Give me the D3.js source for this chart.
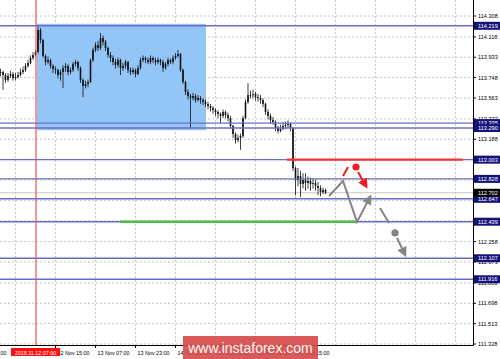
<!DOCTYPE html>
<html>
<head>
<meta charset="utf-8">
<script src="https://cdn.jsdelivr.net/npm/d3@7"></script>
<style>
	body { margin: 0; background: #fff; }
	svg { display: block; font-family: "Liberation Sans", Arial, sans-serif; }
</style>
</head>
<body>
<script>
// USDJPY H1, one bar every hour
var opens = [
	113.790,113.799,113.772,113.727,113.763,113.781,113.745,113.754,113.772,113.799,
	113.817,113.854,113.881,113.927,113.954,113.981,114.181,114.090,113.945,113.890,
	113.908,113.854,113.827,113.817,113.772,113.799,113.836,113.854,113.799,113.817,
	113.872,113.890,113.836,113.727,113.672,113.690,113.708,113.908,113.999,114.045,
	114.017,114.108,114.072,114.017,113.954,113.927,113.890,113.863,113.908,113.836,
	113.854,113.890,113.817,113.799,113.817,113.781,113.836,113.908,113.927,113.908,
	113.890,113.927,113.908,113.890,113.908,113.890,113.836,113.872,113.908,113.890,
	113.927,113.945,113.963,113.817,113.708,113.618,113.581,113.563,113.581,113.545,
	113.563,113.545,113.527,113.509,113.490,113.472,113.454,113.436,113.418,113.400,
	113.436,113.409,113.381,113.309,113.236,113.181,113.200,113.218,113.381,113.527,
	113.590,113.590,113.599,113.572,113.563,113.545,113.509,113.436,113.400,113.363,
	113.345,113.290,113.263,113.281,113.309,113.318,113.327,113.290,112.927,112.818,
	112.854,112.782,112.818,112.791,112.809,112.782,112.791,112.764,112.745,112.709,
	112.727];
var highs = [
	113.830,113.810,113.790,113.790,113.810,113.800,113.790,113.800,113.830,113.850,
	113.880,113.910,113.950,113.980,114.000,114.219,114.200,114.100,113.960,113.940,
	113.920,113.870,113.850,113.830,113.820,113.860,113.880,113.870,113.840,113.890,
	113.910,113.900,113.850,113.740,113.720,113.730,113.920,114.020,114.070,114.080,
	114.154,114.130,114.090,114.030,113.980,113.950,113.920,113.930,113.920,113.880,
	113.910,113.900,113.840,113.840,113.830,113.860,113.930,113.950,113.940,113.930,
	113.950,113.940,113.930,113.930,113.920,113.910,113.890,113.930,113.920,113.950,
	113.970,113.999,113.970,113.830,113.720,113.640,113.600,113.610,113.600,113.590,
	113.580,113.560,113.550,113.530,113.510,113.490,113.470,113.450,113.430,113.460,
	113.450,113.430,113.400,113.320,113.250,113.230,113.240,113.400,113.550,113.699,
	113.630,113.640,113.620,113.600,113.590,113.560,113.520,113.460,113.420,113.390,
	113.360,113.310,113.320,113.340,113.350,113.360,113.340,113.300,112.940,112.927,
	112.900,112.880,112.880,112.850,112.840,112.830,112.820,112.800,112.770,112.750,
	112.740];
var lows = [
	113.760,113.636,113.700,113.710,113.745,113.720,113.725,113.740,113.760,113.780,
	113.800,113.840,113.870,113.910,113.940,113.970,114.060,113.930,113.860,113.870,
	113.830,113.790,113.780,113.740,113.720,113.654,113.800,113.770,113.780,113.800,
	113.850,113.810,113.700,113.572,113.650,113.660,113.700,113.890,113.980,113.990,
	114.000,114.040,113.990,113.930,113.890,113.860,113.830,113.840,113.772,113.810,
	113.830,113.790,113.770,113.780,113.750,113.770,113.820,113.890,113.880,113.870,
	113.870,113.880,113.860,113.870,113.860,113.800,113.820,113.850,113.870,113.870,
	113.910,113.930,113.800,113.690,113.590,113.550,113.290,113.540,113.520,113.530,
	113.510,113.500,113.480,113.460,113.440,113.420,113.400,113.380,113.336,113.380,
	113.380,113.350,113.280,113.200,113.150,113.160,113.091,113.200,113.370,113.510,
	113.560,113.560,113.540,113.530,113.510,113.480,113.410,113.370,113.330,113.320,
	113.260,113.240,113.250,113.270,113.280,113.290,113.260,112.900,112.680,112.760,
	112.664,112.740,112.720,112.740,112.720,112.740,112.720,112.680,112.670,112.690,
	112.690];
var closes = [
	113.799,113.772,113.727,113.763,113.781,113.745,113.754,113.772,113.799,113.817,
	113.854,113.881,113.927,113.954,113.981,114.181,114.090,113.945,113.890,113.908,
	113.854,113.827,113.817,113.772,113.799,113.836,113.854,113.799,113.817,113.872,
	113.890,113.836,113.727,113.672,113.690,113.708,113.908,113.999,114.045,114.017,
	114.108,114.072,114.017,113.954,113.927,113.890,113.863,113.908,113.836,113.854,
	113.890,113.817,113.799,113.817,113.781,113.836,113.908,113.927,113.908,113.890,
	113.927,113.908,113.890,113.908,113.890,113.836,113.872,113.908,113.890,113.927,
	113.945,113.963,113.817,113.708,113.618,113.581,113.563,113.581,113.545,113.563,
	113.545,113.527,113.509,113.490,113.472,113.454,113.436,113.418,113.400,113.436,
	113.409,113.381,113.309,113.236,113.181,113.200,113.218,113.381,113.527,113.590,
	113.590,113.599,113.572,113.563,113.545,113.509,113.436,113.400,113.363,113.345,
	113.290,113.263,113.281,113.309,113.318,113.327,113.290,112.927,112.818,112.854,
	112.782,112.818,112.791,112.809,112.782,112.791,112.764,112.745,112.709,112.727,
	112.702];

// price scale labels (right side)
var priceTicks = [114.308,114.118,113.933,113.748,113.563,113.373,113.188,113.003,
	112.818,112.633,112.448,112.258,112.073,111.883,111.698,111.513,111.328];
// horizontal levels drawn on the chart
var levels = [114.219,113.335,113.290,113.003,112.828,112.647,112.439,112.107,111.916];
var bid = 112.702;

// time axis: bar index -> label (the one under the red marker is hidden)
var timeIdx = [-10, 22, 38, 54, 70, 86, 102, 118];
var timeLabels = ['9 Nov 07:00','12 Nov 15:00','13 Nov 07:00','13 Nov 23:00',
	'14 Nov 15:00','15 Nov 07:00','15 Nov 23:00','16 Nov 15:00'];
var markIdx = 14, markLabel = '2018.11.12 07:00';

var w = 500, h = 359,
	axisX = 473,	// right price axis
	axisY = 345;	// bottom time axis

var x = d3.scaleLinear().domain([0, 130]).range([0.5, 325.5]);
var y = d3.scaleLinear().domain([111.328, 114.308]).range([344, 16]);

var svg = d3.select('body').append('svg')
	.attr('width', w)
	.attr('height', h);

var defs = svg.append('defs');
function marker(id, col) {
	defs.append('marker')
		.attr('id', id)
		.attr('viewBox', '0 0 10 10')
		.attr('refX', 6).attr('refY', 5)
		.attr('markerUnits', 'userSpaceOnUse')
		.attr('markerWidth', 10).attr('markerHeight', 10)
		.attr('orient', 'auto')
	  .append('path')
		.attr('d', 'M0,0L10,5L0,10z')
		.attr('fill', col);
}
marker('ag', '#858585');
marker('ar', '#f01e1e');

// grid
var gridIdx = d3.range(6, 190, 16);
svg.append('g').selectAll('line').data(priceTicks).enter().append('line')
	.attr('x1', 0).attr('x2', axisX)
	.attr('y1', function(d) { return y(d); }).attr('y2', function(d) { return y(d); })
	.attr('stroke', '#c4c4c4').attr('stroke-dasharray', '2,2');
svg.append('g').selectAll('line').data(gridIdx).enter().append('line')
	.attr('x1', function(d) { return x(d); }).attr('x2', function(d) { return x(d); })
	.attr('y1', 0).attr('y2', axisY)
	.attr('stroke', '#c4c4c4').attr('stroke-dasharray', '2,2');

// blue range rectangle
svg.append('rect')
	.attr('x', x(14.6)).attr('y', y(114.237))
	.attr('width', x(82.2) - x(14.6)).attr('height', y(113.27) - y(114.237))
	.attr('fill', '#93c6f7');

// bid line
svg.append('line')
	.attr('x1', 0).attr('x2', axisX)
	.attr('y1', y(bid)).attr('y2', y(bid))
	.attr('stroke', '#c8c8c8');

// candles
var idx = d3.range(closes.length);
var bars = svg.append('g');
bars.selectAll('line').data(idx).enter().append('line')
	.attr('x1', function(i) { return x(i); }).attr('x2', function(i) { return x(i); })
	.attr('y1', function(i) { return y(highs[i]); })
	.attr('y2', function(i) { return y(lows[i]); })
	.attr('stroke', '#111').attr('stroke-width', 0.8);
bars.selectAll('rect').data(idx).enter().append('rect')
	.attr('x', function(i) { return x(i) - 0.8; })
	.attr('width', 1.6)
	.attr('y', function(i) { return y(Math.max(opens[i], closes[i])); })
	.attr('height', function(i) { return Math.max(0.8, Math.abs(y(opens[i]) - y(closes[i]))); })
	.attr('fill', '#111');

// red time marker, drawn over the bars
svg.append('line')
	.attr('x1', x(markIdx) + 0.5).attr('x2', x(markIdx) + 0.5)
	.attr('y1', 0).attr('y2', axisY)
	.attr('stroke', '#ff2a2a').attr('stroke-width', 1);

// levels
svg.append('g').selectAll('line').data(levels).enter().append('line')
	.attr('x1', 0).attr('x2', axisX)
	.attr('y1', function(d) { return y(d); }).attr('y2', function(d) { return y(d); })
	.attr('stroke', '#6c6cc4').attr('stroke-width', 1.4);

// resistance (red) and support (green) segments
svg.append('line')
	.attr('x1', x(114.6)).attr('x2', x(185))
	.attr('y1', y(113.003)).attr('y2', y(113.003))
	.attr('stroke', '#f03434').attr('stroke-width', 2.2);
svg.append('line')
	.attr('x1', x(47.8)).attr('x2', x(142.6))
	.attr('y1', y(112.439)).attr('y2', y(112.439))
	.attr('stroke', '#4cbb4c').attr('stroke-width', 2.5);

// scenario arrows
var line = d3.line()
	.x(function(d) { return x(d[0]); })
	.y(function(d) { return y(d[1]); });

var grayPath = [[131.4, 112.673], [137.0, 112.809], [142.6, 112.437], [147.6, 112.655]];
var grayDash = [[151.8, 112.564], [155.4, 112.428]];
var grayDot = [157.8, 112.337];
var grayDown = [[158.6, 112.291], [161.6, 112.150]];
var redDash = [[137.0, 112.854], [139.0, 112.936]];
var redDot = [142.2, 112.936];
var redDown = [[143.0, 112.891], [146.0, 112.770]];

svg.append('path').attr('d', line(grayPath))
	.attr('fill', 'none').attr('stroke', '#858585').attr('stroke-width', 2)
	.attr('marker-end', 'url(#ag)');
svg.append('path').attr('d', line(grayDash))
	.attr('fill', 'none').attr('stroke', '#858585').attr('stroke-width', 2);
svg.append('circle').attr('cx', x(grayDot[0])).attr('cy', y(grayDot[1])).attr('r', 3.6)
	.attr('fill', '#858585');
svg.append('path').attr('d', line(grayDown))
	.attr('fill', 'none').attr('stroke', '#858585').attr('stroke-width', 2)
	.attr('marker-end', 'url(#ag)');
svg.append('path').attr('d', line(redDash))
	.attr('fill', 'none').attr('stroke', '#f01e1e').attr('stroke-width', 2);
svg.append('circle').attr('cx', x(redDot[0])).attr('cy', y(redDot[1])).attr('r', 3.6)
	.attr('fill', '#f01e1e');
svg.append('path').attr('d', line(redDown))
	.attr('fill', 'none').attr('stroke', '#f01e1e').attr('stroke-width', 2)
	.attr('marker-end', 'url(#ar)');

// axes frame
svg.append('line').attr('x1', axisX + 0.5).attr('x2', axisX + 0.5).attr('y1', 0).attr('y2', axisY + 0.5)
	.attr('stroke', '#000');
svg.append('line').attr('x1', 0).attr('x2', axisX + 0.5).attr('y1', axisY + 0.5).attr('y2', axisY + 0.5)
	.attr('stroke', '#000');

// price tick labels
var pt = svg.append('g').selectAll('g').data(priceTicks).enter().append('g')
	.attr('transform', function(d) { return 'translate(' + axisX + ',' + y(d) + ')'; });
pt.append('line').attr('x1', 0).attr('x2', 3).attr('stroke', '#000');
pt.append('text').attr('x', 5).attr('dy', '0.35em')
	.attr('font-size', 5.6).attr('fill', '#000')
	.text(function(d) { return d.toFixed(3); });

// level labels on axis
function tag(v, col) {
	var g = svg.append('g').attr('transform', 'translate(' + (axisX + 1) + ',' + y(v) + ')');
	g.append('rect').attr('x', 0).attr('y', -4).attr('width', 26).attr('height', 8).attr('fill', col);
	g.append('text').attr('x', 4).attr('dy', '0.35em')
		.attr('font-size', 5.6).attr('fill', '#fff')
		.text(v.toFixed(3));
}
levels.forEach(function(v) { tag(v, '#141478'); });
tag(bid, '#000');

// time labels
var tt = svg.append('g').selectAll('g').data(timeIdx).enter().append('g')
	.attr('transform', function(d) { return 'translate(' + x(d) + ',' + axisY + ')'; });
tt.append('line').attr('y1', 0).attr('y2', 3).attr('stroke', '#000');
tt.append('text').attr('x', 2).attr('y', 9.5)
	.attr('font-size', 5.4).attr('fill', '#000')
	.text(function(d, i) { return timeLabels[i]; });

var mk = svg.append('g').attr('transform', 'translate(' + x(markIdx) + ',' + axisY + ')');
mk.append('rect').attr('x', -24.5).attr('y', 3).attr('width', 49).attr('height', 8).attr('fill', '#ff1010');
mk.append('text').attr('x', 0).attr('y', 9.5).attr('text-anchor', 'middle')
	.attr('font-size', 5.4).attr('fill', '#fff').text(markLabel);

// watermark
svg.append('rect').attr('x', 183).attr('y', 336).attr('width', 135).attr('height', 23)
	.attr('fill', '#d64848').attr('opacity', 0.9);
svg.append('text').attr('x', 250.5).attr('y', 353).attr('text-anchor', 'middle')
	.attr('font-size', 14).attr('fill', '#fff').attr('opacity', 0.95)
	.text('www.instaforex.com');
</script>
</body>
</html>
